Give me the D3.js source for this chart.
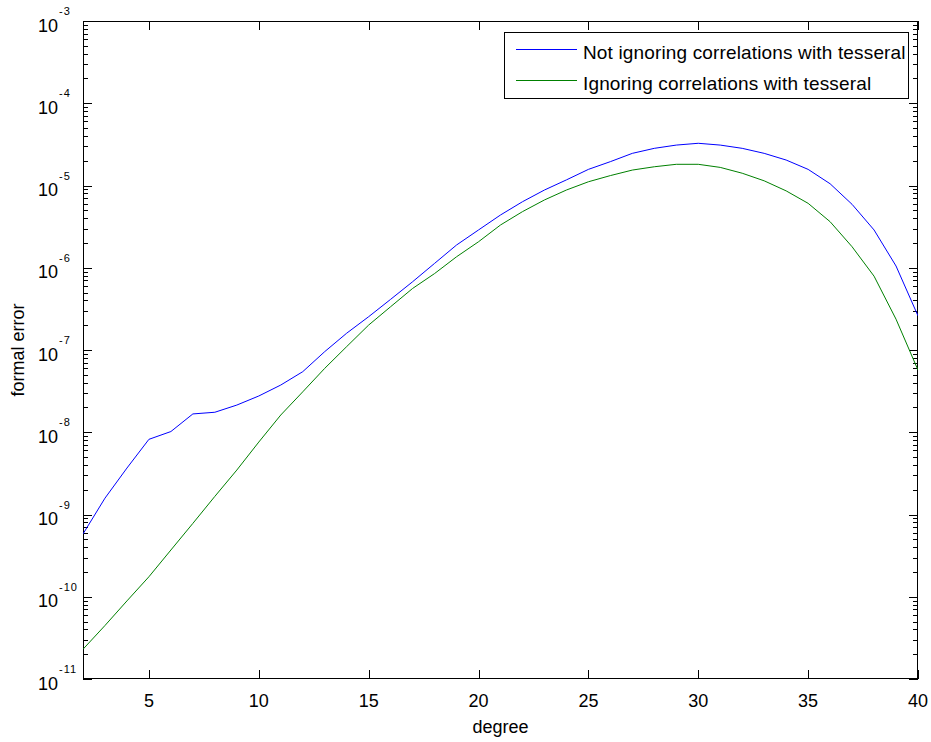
<!DOCTYPE html>
<html>
<head>
<meta charset="utf-8">
<script src="https://cdn.jsdelivr.net/npm/d3@7"></script>
<style>
  html, body { margin: 0; padding: 0; background: #fff; }
  svg { display: block; font-family: "Liberation Sans", Arial, Helvetica, sans-serif; }
</style>
</head>
<body>
<svg id="chart" width="931" height="742"></svg>
<script>
// ---- data ----
const degrees = [2,3,4,5,6,7,8,9,10,11,12,13,14,15,16,17,18,19,20,21,22,23,24,25,26,27,28,29,30,31,32,33,34,35,36,37,38,39,40];
const notIgnoring = [5.8e-10,1.58e-9,3.67e-9,8.2e-9,1.02e-8,1.67e-8,1.75e-8,2.14e-8,2.76e-8,3.75e-8,5.45e-8,9.55e-8,1.6e-7,2.54e-7,4.13e-7,6.76e-7,1.13e-6,1.89e-6,2.88e-6,4.38e-6,6.35e-6,8.81e-6,1.17e-5,1.57e-5,1.95e-5,2.46e-5,2.83e-5,3.1e-5,3.26e-5,3.1e-5,2.83e-5,2.46e-5,2.04e-5,1.57e-5,1.05e-5,5.9e-6,2.88e-6,1.05e-6,2.6e-7];
const ignoring = [2.3e-11,4.47e-11,8.9e-11,1.75e-10,3.7e-10,7.8e-10,1.66e-9,3.47e-9,7.6e-9,1.62e-8,3.1e-8,5.98e-8,1.1e-7,2.01e-7,3.36e-7,5.6e-7,8.5e-7,1.36e-6,2.07e-6,3.31e-6,4.81e-6,6.67e-6,8.81e-6,1.11e-5,1.32e-5,1.54e-5,1.69e-5,1.81e-5,1.81e-5,1.66e-5,1.41e-5,1.14e-5,8.6e-6,6.07e-6,3.63e-6,1.8e-6,7.9e-7,2.37e-7,5.7e-8];
const seriesNames = ["Not ignoring correlations with tesseral", "Ignoring correlations with tesseral"];
const seriesColors = ["#0000ff", "#008000"];
const xTicks = [5,10,15,20,25,30,35,40];
const yExponents = [-11,-10,-9,-8,-7,-6,-5,-4,-3];
const xLabel = "degree";
const yLabel = "formal error";

// ---- layout ----
const svg = d3.select("#chart");
const L = 83, R = 918, T = 21, B = 679;
const x = d3.scaleLinear().domain([2, 40]).range([L, R]);
const y = d3.scaleLog().domain([1e-11, 1e-3]).range([B, T]);

svg.append("defs").append("clipPath").attr("id", "clip")
  .append("rect").attr("x", L).attr("y", T).attr("width", R - L).attr("height", B - T);

// minor ticks (log)
const minorVals = [];
for (let e = -11; e < -3; e++) for (let m = 2; m <= 9; m++) minorVals.push(m * Math.pow(10, e));

const tickG = svg.append("g").attr("stroke", "#000").attr("stroke-width", 1).attr("shape-rendering", "crispEdges");
minorVals.forEach(v => {
  const yy = Math.round(y(v)) + 0.5;
  tickG.append("line").attr("x1", L).attr("x2", L + 5).attr("y1", yy).attr("y2", yy);
  tickG.append("line").attr("x1", R - 5).attr("x2", R).attr("y1", yy).attr("y2", yy);
});
yExponents.forEach(e => {
  const yy = Math.round(y(Math.pow(10, e))) + 0.5;
  tickG.append("line").attr("x1", L).attr("x2", L + 9).attr("y1", yy).attr("y2", yy);
  tickG.append("line").attr("x1", R - 9).attr("x2", R).attr("y1", yy).attr("y2", yy);
});
xTicks.forEach(v => {
  const xx = Math.round(x(v)) + 0.5;
  tickG.append("line").attr("x1", xx).attr("x2", xx).attr("y1", B).attr("y2", B - 9);
  tickG.append("line").attr("x1", xx).attr("x2", xx).attr("y1", T).attr("y2", T + 9);
});

// box
svg.append("rect").attr("x", L + 0.5).attr("y", T + 0.5).attr("width", R - L - 1).attr("height", B - T - 1)
  .attr("fill", "none").attr("stroke", "#000").attr("stroke-width", 1).attr("shape-rendering", "crispEdges");

// x tick labels
svg.append("g").selectAll("text").data(xTicks).join("text")
  .attr("x", d => x(d)).attr("y", 707).attr("text-anchor", "middle")
  .attr("font-size", 18).attr("fill", "#000").text(d => d);

// y tick labels: 10^e
const yl = svg.append("g");
yExponents.forEach(e => {
  const yy = y(Math.pow(10, e));
  yl.append("text").attr("x", 58).attr("y", yy + 10.5).attr("text-anchor", "end")
    .attr("font-size", 18).attr("fill", "#000").text("10");
  yl.append("text").attr("x", 59).attr("y", yy - 6).attr("text-anchor", "start")
    .attr("font-size", 11).attr("letter-spacing", 1).attr("fill", "#000").text(String(e));
});

// axis labels
svg.append("text").attr("x", (L + R) / 2).attr("y", 733).attr("text-anchor", "middle")
  .attr("font-size", 18).attr("fill", "#000").text(xLabel);
svg.append("text").attr("transform", "translate(24," + ((T + B) / 2) + ") rotate(-90)")
  .attr("text-anchor", "middle").attr("font-size", 18).attr("fill", "#000").text(yLabel);

// lines
const line = d3.line().x((d, i) => x(degrees[i])).y(d => y(d));
const plotG = svg.append("g").attr("clip-path", "url(#clip)");
[notIgnoring, ignoring].forEach((s, i) => {
  plotG.append("path").datum(s).attr("d", line).attr("fill", "none")
    .attr("stroke", seriesColors[i]).attr("stroke-width", 1);
});

// legend
const lg = svg.append("g");
lg.append("rect").attr("x", 504.5).attr("y", 32.5).attr("width", 404).attr("height", 66)
  .attr("fill", "#fff").attr("stroke", "#000").attr("stroke-width", 1).attr("shape-rendering", "crispEdges");
const legY = [49, 80];
seriesNames.forEach((n, i) => {
  lg.append("line").attr("x1", 516).attr("x2", 577).attr("y1", legY[i] + 0.5).attr("y2", legY[i] + 0.5)
    .attr("stroke", seriesColors[i]).attr("stroke-width", 1);
  lg.append("text").attr("x", 583).attr("y", legY[i] + 9.5).attr("font-size", 19)
    .attr("letter-spacing", 0.15).attr("fill", "#000").text(n);
});
</script>
</body>
</html>
